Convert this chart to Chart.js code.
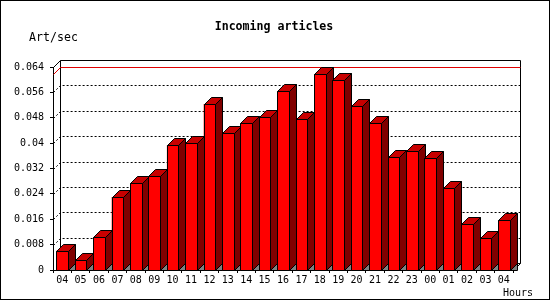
<!DOCTYPE html>
<html>
<head>
<meta charset="utf-8">
<script src="https://cdn.jsdelivr.net/npm/chart.js@4/dist/chart.umd.min.js"></script>
<style>
  html, body { margin: 0; padding: 0; background: #fff; }
  #wrap { width: 550px; height: 300px; }
</style>
</head>
<body>
<div id="wrap"><canvas id="grafico" width="550" height="300"></canvas></div>
<script>
const horas = ['04', '05', '06', '07', '08', '09', '10', '11', '12', '13', '14', '15', '16',
               '17', '18', '19', '20', '21', '22', '23', '00', '01', '02', '03', '04'];
const articulosSeg = [0.0061, 0.0031, 0.0103, 0.0230, 0.0274, 0.0296, 0.0393, 0.0399, 0.0523,
                      0.0432, 0.0463, 0.0481, 0.0564, 0.0476, 0.0617, 0.0599, 0.0517, 0.0463,
                      0.0355, 0.0375, 0.0352, 0.0258, 0.0145, 0.0100, 0.0157];
const marcasY = [0, 0.008, 0.016, 0.024, 0.032, 0.04, 0.048, 0.056, 0.064];
const titulo = 'Incoming articles';
const unidadY = 'Art/sec';
const unidadX = 'Hours';

const PROF = 7; // profundidad del efecto 3D, en px
const fuente = 'DejaVu Sans Mono';

function poligono(ctx, puntos, relleno) {
    ctx.beginPath();
    ctx.moveTo(puntos[0][0], puntos[0][1]);
    puntos.slice(1).forEach(p => ctx.lineTo(p[0], p[1]));
    ctx.closePath();
    ctx.fillStyle = relleno;
    ctx.fill();
    ctx.stroke();
}

const efecto3D = {
    id: 'efecto3D',
    beforeDatasetsDraw(chart) {
        const { ctx, chartArea: a, scales: { y } } = chart;
        const L = Math.round(a.left) + 0.5, R = Math.round(a.right) + 0.5;
        const T = Math.round(a.top) + 0.5, B = Math.round(a.bottom) + 0.5;
        ctx.save();
        ctx.lineWidth = 1;
        ctx.strokeStyle = '#000';
        // lineas punteadas: pared lateral + pared del fondo
        ctx.setLineDash([2, 2]);
        marcasY.slice(1, -1).forEach(v => {
            const py = Math.round(y.getPixelForValue(v)) + 0.5;
            ctx.beginPath();
            ctx.moveTo(L, py);
            ctx.lineTo(L + PROF, py - PROF);
            ctx.lineTo(R + PROF, py - PROF);
            ctx.stroke();
        });
        ctx.setLineDash([]);
        // bordes de las paredes
        ctx.beginPath();
        ctx.moveTo(L, T);
        ctx.lineTo(L + PROF, T - PROF);
        ctx.lineTo(R + PROF, T - PROF);
        ctx.lineTo(R + PROF, B - PROF);
        ctx.lineTo(R, B);
        ctx.moveTo(L + PROF, T - PROF);
        ctx.lineTo(L + PROF, B - PROF);
        ctx.lineTo(R + PROF, B - PROF);
        ctx.stroke();
        // linea roja del maximo
        const pm = Math.round(y.getPixelForValue(Math.max(...articulosSeg))) + 0.5;
        ctx.strokeStyle = '#e00000';
        ctx.beginPath();
        ctx.moveTo(L, pm);
        ctx.lineTo(L + PROF, pm - PROF);
        ctx.lineTo(R + PROF, pm - PROF);
        ctx.stroke();
        ctx.restore();
    },
    afterDatasetsDraw(chart) {
        const { ctx } = chart;
        ctx.save();
        ctx.lineWidth = 1;
        ctx.strokeStyle = '#000';
        chart.getDatasetMeta(0).data.forEach(barra => {
            const { x, y, base, width } = barra.getProps(['x', 'y', 'base', 'width'], true);
            const l = Math.round(x - width / 2) + 0.5, r = Math.round(x + width / 2) + 0.5;
            const t = Math.round(y) + 0.5, b = Math.round(base) + 0.5;
            poligono(ctx, [[r, b], [r + PROF, b - PROF], [r + PROF, b]], '#808080');
            poligono(ctx, [[l, t], [r, t], [r, b], [l, b]], '#ff0000');
            poligono(ctx, [[l, t], [l + PROF, t - PROF], [r + PROF, t - PROF], [r, t]], '#c80000');
            poligono(ctx, [[r, t], [r + PROF, t - PROF], [r + PROF, b - PROF], [r, b]], '#800000');
        });
        ctx.restore();
    },
    afterDraw(chart) {
        const { ctx } = chart;
        ctx.save();
        ctx.fillStyle = '#000';
        ctx.textBaseline = 'middle';
        ctx.textAlign = 'center';
        ctx.font = `bold 11.6px "${fuente}"`;
        ctx.fillText(titulo, 274, 27);
        ctx.textAlign = 'left';
        ctx.font = `11.6px "${fuente}"`;
        ctx.fillText(unidadY, 29, 38);
        ctx.font = `10px "${fuente}"`;
        ctx.fillText(unidadX, 503, 293);
        ctx.strokeStyle = '#000';
        ctx.lineWidth = 1;
        ctx.strokeRect(0.5, 0.5, 549, 299);
        ctx.restore();
    }
};

Chart.defaults.font.family = fuente;
Chart.defaults.font.size = 10;
Chart.defaults.color = '#000';

new Chart(document.getElementById('grafico'), {
    type: 'bar',
    data: {
        labels: horas,
        datasets: [{
            label: unidadY,
            data: articulosSeg,
            backgroundColor: '#ff0000',
            borderWidth: 0,
            categoryPercentage: 1,
            barPercentage: 0.62
        }]
    },
    options: {
        responsive: false,
        animation: false,
        layout: { padding: { top: 67, right: 37, bottom: 0, left: 0 } },
        plugins: { legend: { display: false }, tooltip: { enabled: false } },
        scales: {
            x: {
                grid: { drawOnChartArea: false, tickLength: 3, color: '#000', offset: true },
                border: { color: '#000' },
                ticks: { padding: 1, maxRotation: 0, autoSkip: false },
                afterFit: s => { s.height = 30; }
            },
            y: {
                min: 0,
                max: 0.064,
                afterBuildTicks: s => { s.ticks = marcasY.map(v => ({ value: v })); },
                grid: { drawOnChartArea: false, tickLength: 3, color: '#000' },
                border: { color: '#000' },
                ticks: { padding: 6, callback: v => String(+v.toFixed(3)) },
                afterFit: s => { s.width = 53; }
            }
        }
    },
    plugins: [efecto3D]
});
</script>
</body>
</html>
